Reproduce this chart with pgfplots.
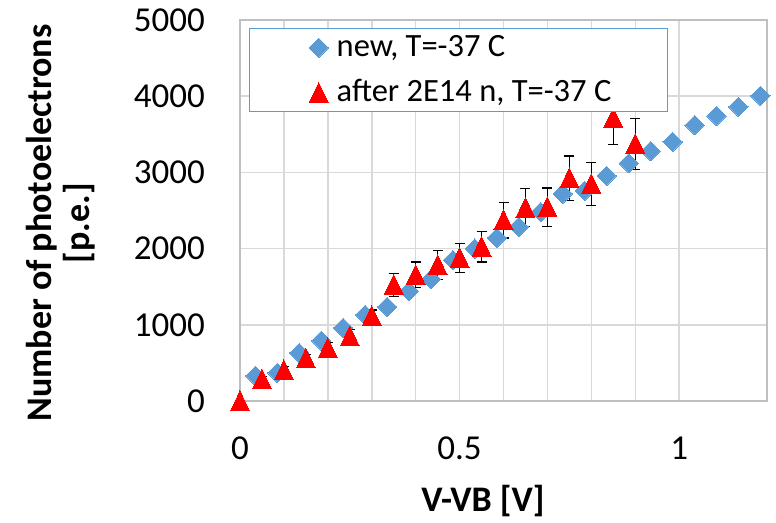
\documentclass[border=0pt]{standalone}
\usepackage{fontspec}
\setmainfont{Carlito}
\usepackage{pgfplots}
\pgfplotsset{compat=1.18}
\definecolor{newblue}{HTML}{5B9BD5}
\definecolor{gridgray}{HTML}{D9D9D9}

\begin{document}
\begin{tikzpicture}
\path[use as bounding box] (0,0) rectangle (776pt,522pt);
\begin{axis}[
    at={(240pt,121pt)}, anchor=south west,
    scale only axis, width=527pt, height=381pt,
    xmin=0, xmax=1.2, ymin=0, ymax=5000,
    xtick={0,0.5,1}, minor x tick num=4,
    ytick={0,1000,...,5000},
    scaled y ticks=false,
    /pgf/number format/1000 sep={},
    /pgf/number format/assume math mode=true,
    xmajorgrids, xminorgrids, ymajorgrids,
    grid style={gridgray, line width=1.5pt},
    minor grid style={gridgray, line width=1.5pt},
    axis line style={draw=black!25, line width=1.5pt},
    major tick length=0pt, minor tick length=0pt,
    tick label style={font=\fontsize{35}{40}\selectfont},
    xticklabel style={anchor=center, yshift=-47pt},
    yticklabel style={anchor=east, inner sep=0pt, xshift=-35pt},
    label style={font=\bfseries\fontsize{36}{38}\selectfont},
    xlabel={V-VB [V]},
    xlabel style={at={(axis description cs:0.461,-0.262)}, anchor=center},
    ylabel={Number of photoelectrons\\{[p.e.]}},
    ylabel style={at={(axis description cs:-0.34,0.467)}, anchor=center, align=center},
    clip=false,
    legend cell align=left,
    legend style={at={(axis description cs:0.017,0.979)}, anchor=north west,
        draw=newblue, line width=1.5pt, fill=white,
        font=\fontsize{32.5}{36}\selectfont,
        nodes={text height=24pt, text depth=6pt, inner sep=2pt},
        inner xsep=7pt, inner ysep=2pt, row sep=11pt},
    legend image code/.code={
        \path[draw=none, fill=none] (0pt,-8pt) rectangle (78pt,8pt);
        \draw[#1] plot coordinates {(62pt,0pt)};},
]
\addplot[newblue, only marks, mark=square*, mark size=6.8pt,
    mark options={rotate=45, fill=newblue, draw=newblue, line width=0pt}]
coordinates {
(0.035,330) (0.085,370) (0.135,630) (0.185,790) (0.235,960) (0.285,1130)
(0.335,1235) (0.385,1440) (0.435,1600) (0.485,1850) (0.535,2000) (0.585,2140)
(0.635,2285) (0.685,2480) (0.735,2720) (0.785,2760) (0.835,2955) (0.885,3120)
(0.935,3280) (0.985,3400) (1.035,3620) (1.085,3740) (1.135,3860) (1.185,4005)
};
\addlegendentry{new, T=-37 C}

\addplot[red, only marks, mark=triangle*, mark size=11pt,
    mark options={fill=red, draw=red, line width=0pt, yscale=1.2, yshift=-2.5pt},
    error bars/.cd, y dir=both, y explicit,
    error bar style={black, line width=1.2pt},
    error mark options={rotate=90, black, mark size=5pt, line width=1.2pt, yscale=1, yshift=0pt}]
coordinates {
(0.00,0) +- (0,0)
(0.05,285) +- (0,40)
(0.10,405) +- (0,50)
(0.15,560) +- (0,55)
(0.20,695) +- (0,75)
(0.25,850) +- (0,85)
(0.30,1115) +- (0,80)
(0.35,1525) +- (0,150)
(0.40,1655) +- (0,170)
(0.45,1785) +- (0,190)
(0.50,1880) +- (0,190)
(0.55,2025) +- (0,200)
(0.60,2375) +- (0,235)
(0.65,2535) +- (0,250)
(0.70,2545) +- (0,250)
(0.75,2925) +- (0,290)
(0.80,2850) +- (0,280)
(0.85,3715) +- (0,350)
(0.90,3375) +- (0,335)
};
\addlegendentry{\makebox[322pt][l]{after 2E14 n, T=-37 C}}
\end{axis}
\end{tikzpicture}
\end{document}
